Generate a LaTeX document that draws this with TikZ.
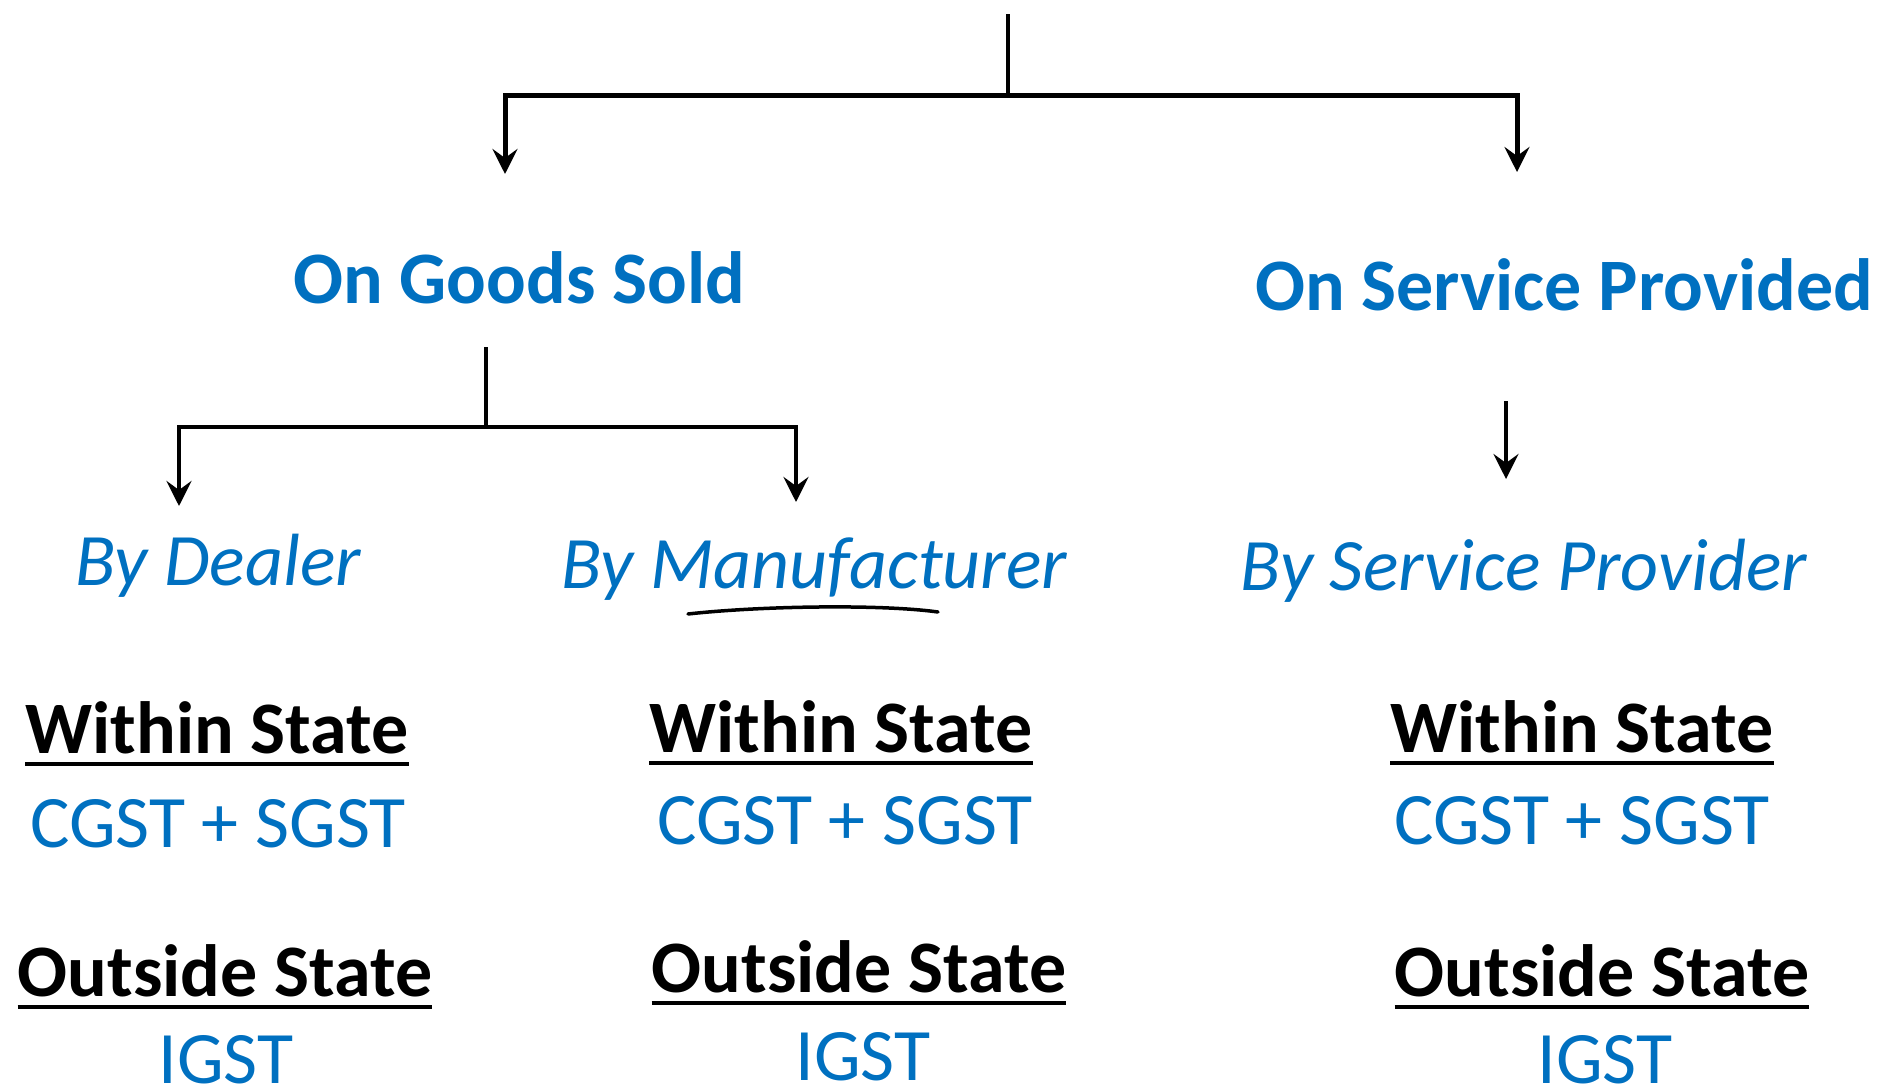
\documentclass[tikz,border=0pt]{standalone}
\usepackage{fontspec}
\setmainfont{Carlito}
\usetikzlibrary{arrows.meta}
\definecolor{gstblue}{RGB}{0,112,192}

\begin{document}
\begin{tikzpicture}[
		x=1pt,y=-1pt,
		every node/.style={
				inner sep=0pt,
				anchor=base,
				font=\fontsize{74}{88}\selectfont
			},
		head/.style={text=gstblue,font=\fontsize{74}{88}\selectfont\bfseries},
		who/.style={text=gstblue,font=\fontsize{74}{88}\selectfont\itshape},
		cond/.style={font=\fontsize{74}{88}\selectfont\bfseries},
		tax/.style={text=gstblue},
		link/.style={line width=4pt},
		arr/.style={line width=4.5pt,-{Stealth[length=25pt,width=25pt,inset=9pt]}},
		uline/.style={line width=4pt}
	]

	\useasboundingbox (0,0) rectangle (1883,1087);

	% first level
	\node[head] (goods) at (519,303) {On Goods Sold};
	\node[head] (serv) at (1564,310) {On Service Provided};

	% who sells
	\node[who] (dealer) at (218,585) {By Dealer};
	\node[who] (manu) at (814,588) {By Manufacturer};
	\node[who] (prov) at (1524,590) {By Service Provider};

	% within state
	\node[cond] (wd) at (217,753) {Within State};
	\node[cond] (wm) at (841,752) {Within State};
	\node[cond] (ws) at (1582,752) {Within State};

	\node[tax] (cd) at (218,847) {CGST + SGST};
	\node[tax] (cm) at (845,844) {CGST + SGST};
	\node[tax] (cs) at (1582,844) {CGST + SGST};

	% outside state
	\node[cond] (od) at (225,996) {Outside State};
	\node[cond] (om) at (859,992) {Outside State};
	\node[cond] (os) at (1602,996) {Outside State};

	\node[tax] (id) at (226,1083) {IGST};
	\node[tax] (im) at (863,1080) {IGST};
	\node[tax] (is) at (1605,1083) {IGST};

	\foreach \n in {wd,wm,ws,od,om,os}
	\draw[uline] ([yshift=-11pt]\n.base west) -- ([yshift=-11pt]\n.base east);

	% branch points
	\coordinate (top) at (1008,14);
	\coordinate (topbar) at (1008,95);
	\coordinate (goodsin) at (505,174);
	\coordinate (servin) at (1517,172);

	\coordinate (goodsout) at (486,347);
	\coordinate (goodsbar) at (486,427);
	\coordinate (dealerin) at (179,506);
	\coordinate (manuin) at (796,502);

	\coordinate (servout) at (1506,401);
	\coordinate (provin) at (1506,479);

	\draw[link,line width=3.5pt] (top) -- (topbar);
	\draw[arr,line width=5pt] (topbar) -| (goodsin);
	\draw[arr,line width=5pt] (topbar) -| (servin);

	\draw[link] (goodsout) -- (goodsbar);
	\draw[arr] (goodsbar) -| (dealerin);
	\draw[arr] (goodsbar) -| (manuin);

	\draw[arr] (servout) -- (provin);

	% pen stroke under the word
	\draw[line width=3.5pt,line cap=round] (688,614) .. controls (760,606) and (880,604) .. (938,612);

\end{tikzpicture}
\end{document}
